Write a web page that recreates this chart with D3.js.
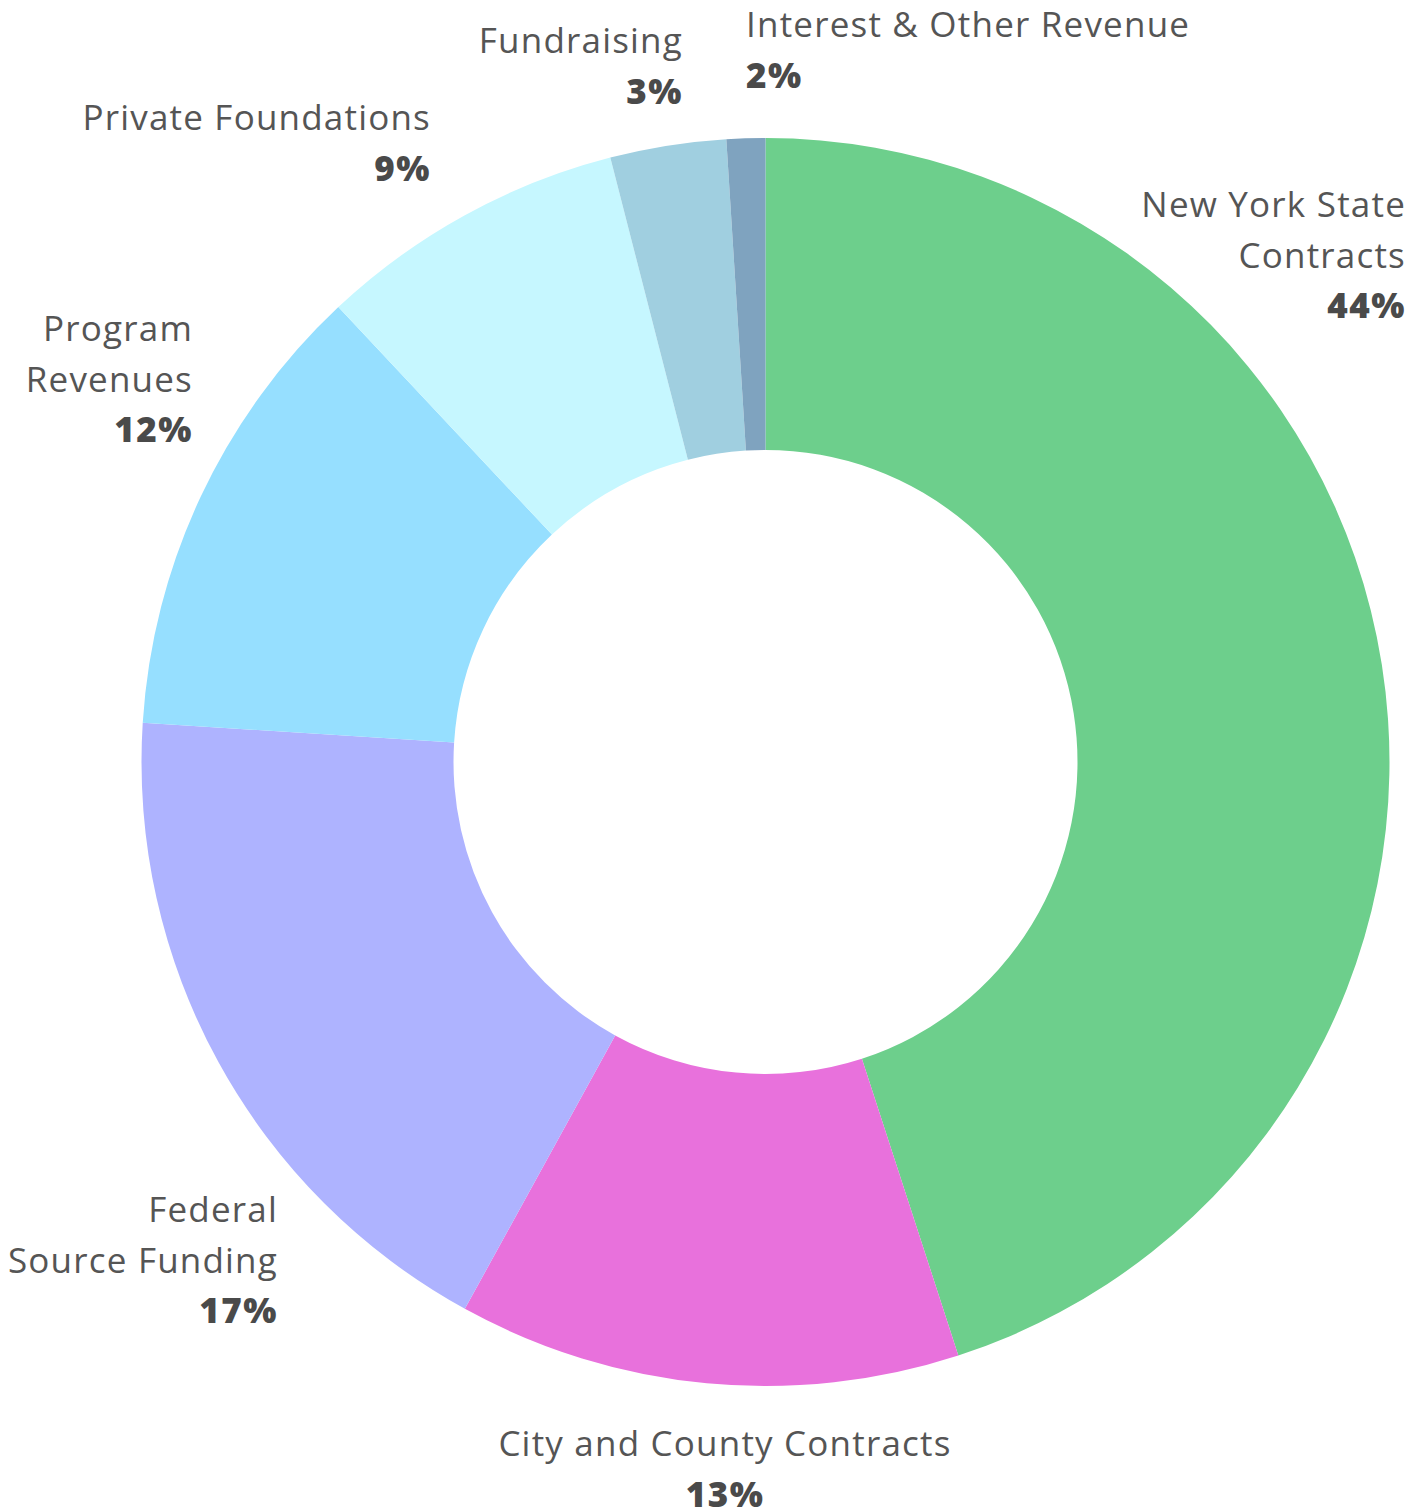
<!DOCTYPE html>
<html>
<head>
<meta charset="utf-8">
<script src="https://cdn.jsdelivr.net/npm/d3@7"></script>
<style>
  html, body { margin: 0; padding: 0; background: #fff; }
  svg { display: block; }
  .name { font-family: "Open Sans", sans-serif; font-size: 35px; fill: #555; letter-spacing: 1.2px; }
  .pct { font-family: "Open Sans", sans-serif; font-size: 35px; font-weight: 800; fill: #4a4a4a; letter-spacing: 1.5px; }
</style>
</head>
<body>
<svg id="chart" width="1424" height="1510"></svg>
<script>
// Data
const categories = ["New York State Contracts", "City and County Contracts", "Federal Source Funding",
  "Program Revenues", "Private Foundations", "Fundraising", "Interest & Other Revenue"];
const values = [45, 13, 18, 12, 8, 3, 1];
const pctLabels = ["44%", "13%", "17%", "12%", "9%", "3%", "2%"];
const nameLines = [["New York State", "Contracts"], ["City and County Contracts"], ["Federal", "Source Funding"],
  ["Program", "Revenues"], ["Private Foundations"], ["Fundraising"], ["Interest & Other Revenue"]];
const colors = ["#6dcf8c", "#e871dc", "#aeb3ff", "#96dfff", "#c6f7ff", "#a0cfe0", "#7fa3bf"];

// Label layout (anchor x, first baseline y, text-anchor)
const labelLayout = [
  { x: 1406, y: 217, anchor: "end" },
  { x: 725, y: 1456, anchor: "middle" },
  { x: 278, y: 1222, anchor: "end" },
  { x: 193, y: 341, anchor: "end" },
  { x: 431, y: 130, anchor: "end" },
  { x: 683, y: 53, anchor: "end" },
  { x: 746, y: 37, anchor: "start" }
];
const lineH = 50.5;

const svg = d3.select("#chart");
const cx = 765.5, cy = 762, outerR = 624, innerR = 312;

const pie = d3.pie().sort(null).value(d => d)(values);
const arc = d3.arc().innerRadius(innerR).outerRadius(outerR);
const color = d3.scaleOrdinal().domain(categories).range(colors);

const g = svg.append("g").attr("transform", `translate(${cx},${cy})`);
g.selectAll("path").data(pie).join("path")
  .attr("d", arc)
  .attr("fill", (d, i) => color(categories[i]));

categories.forEach((c, i) => {
  const L = labelLayout[i];
  const t = svg.append("text").attr("text-anchor", L.anchor);
  nameLines[i].forEach((line, j) => {
    t.append("tspan").attr("class", "name").attr("x", L.x).attr("y", L.y + j * lineH).text(line);
  });
  t.append("tspan").attr("class", "pct").attr("x", L.x).attr("y", L.y + nameLines[i].length * lineH).text(pctLabels[i]);
});
</script>
</body>
</html>
